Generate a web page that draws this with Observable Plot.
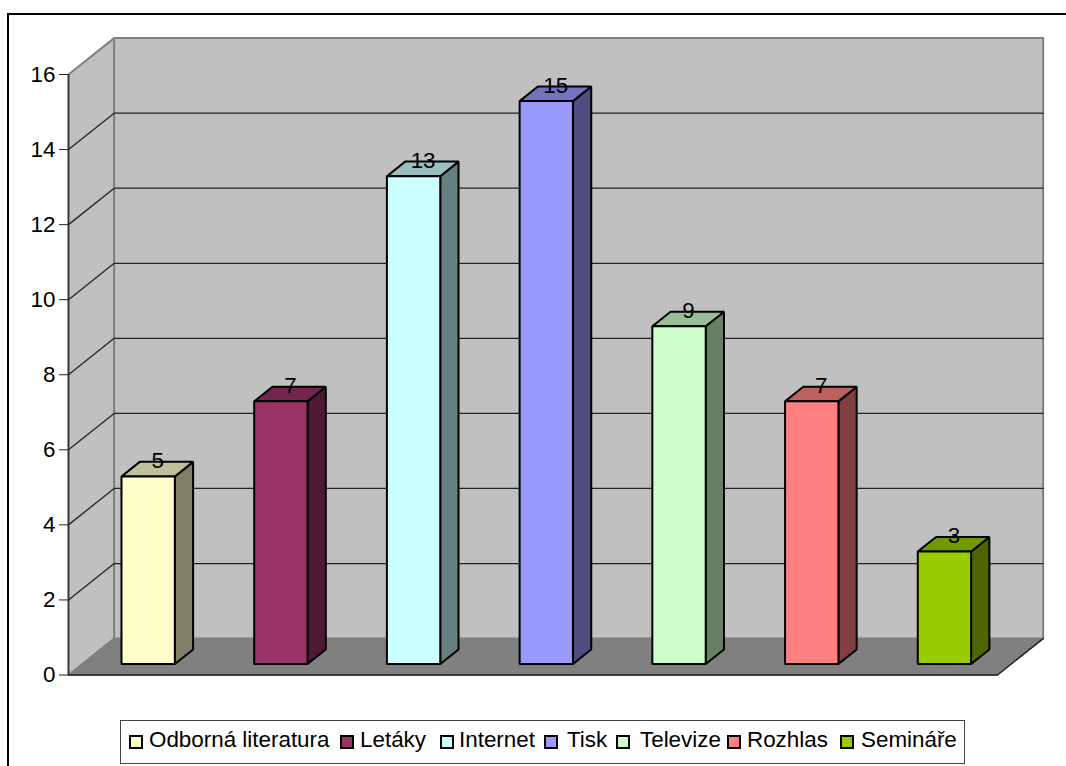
<!DOCTYPE html>
<html lang="cs">
<head>
<meta charset="utf-8">
<title>Zdroje informací</title>
<script src="https://cdn.jsdelivr.net/npm/d3@7"></script>
<script src="https://cdn.jsdelivr.net/npm/@observablehq/plot@0.6"></script>
<style>
  html, body { margin: 0; padding: 0; background: #fff; overflow: hidden; }
  #page { position: relative; width: 1066px; height: 766px; overflow: hidden; font-family: "Liberation Sans", Arial, sans-serif; }
  #frame { position: absolute; left: 7px; top: 13px; width: 1100px; height: 800px; border: 2px solid #000; box-sizing: border-box; background: #fff; }
  #chart { position: absolute; left: 0; top: 0; }
  #legend { position: absolute; left: 120px; top: 720px; width: 845px; height: 44px; box-sizing: border-box; border: 1.5px solid #444; background: #fff; font-size: 22.4px; color: #000; }
  #legend .sw { position: absolute; top: 14px; width: 14px; height: 14px; box-sizing: border-box; border: 2px solid #000; }
  #legend .tx { position: absolute; top: 6px; line-height: 25px; white-space: nowrap; }
</style>
</head>
<body>
<div id="page">
  <div id="frame"></div>
  <div id="chart"></div>
  <div id="legend"></div>
</div>
<script>
// Počty odpovědí podle zdroje informací
const categories = ["Odborná literatura", "Letáky", "Internet", "Tisk", "Televize", "Rozhlas", "Semináře"];
const values = [5, 7, 13, 15, 9, 7, 3];
const colors = ["#FFFFCC", "#993366", "#CCFFFF", "#9999FF", "#CCFFCC", "#FF8080", "#99CC00"];
const yTicks = [0, 2, 4, 6, 8, 10, 12, 14, 16];

// Oblique projection: depth d in [0, 1] shifts a point along both data axes
const depthX = 0.344;   // in category units
const depthY = 0.97;    // in value units
const yMax = 16;
const xMax = categories.length;
const barStart = 0.296; // bar edges within a category
const barEnd = 0.698;
const near = 0.3;       // bar extent in depth
const far = 0.7;

const pt = (c, v, d) => ({x: c + d * depthX, y: v + d * depthY});
const poly = (id, fill, corners) =>
  corners.map(([c, v, d]) => ({id, fill, ...pt(c, v, d)}));

// Chart box: side wall, back wall and floor
const sideWall = poly("side", "#C0C0C0", [[0, 0, 0], [0, yMax, 0], [0, yMax, 1], [0, 0, 1]]);
const backWall = poly("back", "#C0C0C0", [[0, 0, 1], [0, yMax, 1], [xMax, yMax, 1], [xMax, 0, 1]]);
const floor = poly("floor", "#808080", [[0, 0, 0], [0, 0, 1], [xMax, 0, 1], [xMax, 0, 0]]);

// Gridlines run along the side wall and across the back wall
const grid = yTicks.slice(1, -1).flatMap((v) => [
  {id: `g${v}`, ...pt(0, v, 0)},
  {id: `g${v}`, ...pt(0, v, 1)},
  {id: `g${v}`, ...pt(xMax, v, 1)}
]);

// Darker tones for the shaded faces of a bar
const shade = (hex, k) => {
  const c = d3.rgb(hex);
  return d3.rgb(c.r * k, c.g * k, c.b * k).formatHex();
};

const faces = values.flatMap((v, i) => {
  const l = i + barStart, r = i + barEnd;
  return [
    ...poly(`s${i}`, shade(colors[i], 0.5), [[r, 0, near], [r, v, near], [r, v, far], [r, 0, far]]),
    ...poly(`t${i}`, shade(colors[i], 0.75), [[l, v, near], [l, v, far], [r, v, far], [r, v, near]]),
    ...poly(`f${i}`, colors[i], [[l, 0, near], [l, v, near], [r, v, near], [r, 0, near]])
  ];
});

const labels = values.map((v, i) => ({v, ...pt(i + 0.5, v, 0.5)}));

const plot = Plot.plot({
  width: 1066,
  height: 766,
  marginLeft: 68,
  marginRight: 69,
  marginTop: 74,
  marginBottom: 91.5,
  style: {background: "transparent", fontFamily: "'Liberation Sans', Arial, sans-serif", overflow: "visible"},
  x: {domain: [0, xMax], axis: null},
  y: {domain: [0, yMax], axis: null},
  color: {type: "identity"},
  marks: [
    Plot.line([...sideWall, ...backWall], {x: "x", y: "y", z: "id", fill: "fill", stroke: "#808080", strokeWidth: 2, curve: "linear-closed"}),
    Plot.line(floor, {x: "x", y: "y", z: "id", fill: "fill", stroke: "#808080", strokeWidth: 1, curve: "linear-closed"}),
    Plot.line(grid, {x: "x", y: "y", z: "id", stroke: "#222", strokeWidth: 1.3}),
    // Front and right edges of the floor
    Plot.line([pt(0, 0, 0), pt(xMax, 0, 0), pt(xMax, 0, 1)], {x: "x", y: "y", stroke: "#222", strokeWidth: 1.5}),
    Plot.line(faces, {x: "x", y: "y", z: "id", fill: "fill", stroke: "#000", strokeWidth: 2, strokeLinejoin: "miter", curve: "linear-closed"}),
    Plot.text(labels, {x: "x", y: "y", text: "v", fontSize: 22.4, fill: "#000", textAnchor: "middle", dy: -8}),
    Plot.ruleX([0], {y1: 0, y2: yMax, stroke: "#333", strokeWidth: 1.5}),
    Plot.axisY({ticks: yTicks, tickSize: 9, tickPadding: 4, fontSize: 22.4, label: null, tickFormat: (d) => `${d}`, stroke: "#222", fill: "#000", textStroke: "none"})
  ]
});
document.getElementById("chart").appendChild(plot);

// Legend row under the chart
const legend = d3.select("#legend");
const legendSwatchX = [8, 219, 319, 423, 495, 606, 719];
const legendTextX = [28, 239, 338, 446, 519, 626, 740];
categories.forEach((name, i) => {
  legend.append("span").attr("class", "sw").style("left", `${legendSwatchX[i]}px`).style("background", colors[i]);
  legend.append("span").attr("class", "tx").style("left", `${legendTextX[i]}px`).text(name);
});
</script>
</body>
</html>
